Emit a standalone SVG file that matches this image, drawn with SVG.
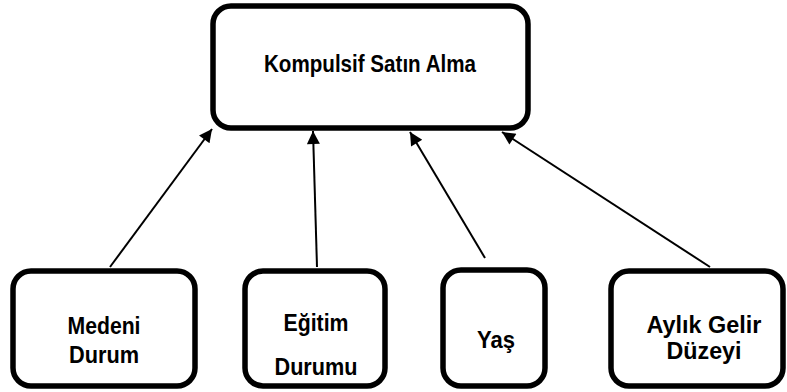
<svg xmlns="http://www.w3.org/2000/svg" width="787" height="392" viewBox="0 0 787 392">
<style>
.box{fill:#fff;stroke:#000;stroke-width:5.5}
.lbl{font-family:"Liberation Sans",Arial,sans-serif;font-weight:bold;font-size:24px;fill:#000;text-anchor:middle}
.con{stroke:#000;stroke-width:2;fill:none}
</style>
<defs>
<marker id="ah" viewBox="0 0 10 10" refX="10" refY="5" markerWidth="7.5" markerHeight="6.5" markerUnits="strokeWidth" orient="auto">
<path d="M0,0 L10,5 L0,10 z" fill="#000"/>
</marker>
</defs>
<rect width="787" height="392" fill="#fff"/>
<g id="connectors">
<line class="con" x1="110" y1="267" x2="212" y2="129" marker-end="url(#ah)"/>
<line class="con" x1="317" y1="267" x2="313" y2="131" marker-end="url(#ah)"/>
<line class="con" x1="485" y1="258" x2="410" y2="132" marker-end="url(#ah)"/>
<line class="con" x1="710" y1="267" x2="502" y2="132" marker-end="url(#ah)"/>
</g>
<g id="n-kompulsif">
<rect class="box" x="213" y="6" width="315" height="122" rx="18"/>
<text class="lbl" x="370" y="72" textLength="212" lengthAdjust="spacingAndGlyphs">Kompulsif Satın Alma</text>
</g>
<g id="n-medeni">
<rect class="box" x="13" y="271" width="182" height="115" rx="18"/>
<text class="lbl" x="104" y="334" textLength="73" lengthAdjust="spacingAndGlyphs">Medeni</text>
<text class="lbl" x="104" y="363" textLength="70" lengthAdjust="spacingAndGlyphs">Durum</text>
</g>
<g id="n-egitim">
<rect class="box" x="245" y="271" width="140" height="115" rx="18"/>
<text class="lbl" x="316" y="331" textLength="65" lengthAdjust="spacingAndGlyphs">Eğitim</text>
<text class="lbl" x="316" y="375" textLength="83" lengthAdjust="spacingAndGlyphs">Durumu</text>
</g>
<g id="n-yas">
<rect class="box" x="443" y="270" width="102" height="116" rx="18"/>
<text class="lbl" x="496" y="348" textLength="38" lengthAdjust="spacingAndGlyphs">Yaş</text>
</g>
<g id="n-aylik">
<rect class="box" x="611" y="271" width="172" height="115" rx="18"/>
<text class="lbl" x="704" y="333" textLength="115" lengthAdjust="spacingAndGlyphs">Aylık Gelir</text>
<text class="lbl" x="704" y="359" textLength="75" lengthAdjust="spacingAndGlyphs">Düzeyi</text>
</g>
</svg>
